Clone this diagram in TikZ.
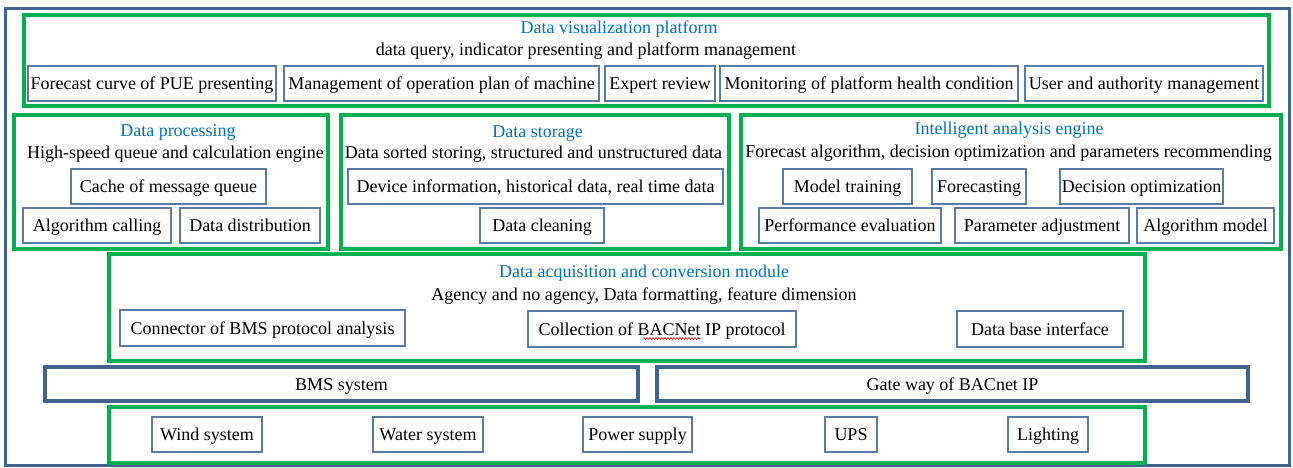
\documentclass[tikz,border=0pt]{standalone}
\usepackage{fontspec}
\setmainfont{Liberation Serif}
\newfontfamily\labelface{Liberation Serif}
\usetikzlibrary{decorations.pathmorphing}

\definecolor{layergreen}{HTML}{00B050}
\definecolor{titleblue}{HTML}{0070C0}
\definecolor{frameblue}{HTML}{41628F}
\definecolor{itemblue}{HTML}{5A7BAA}

\tikzset{
  txt/.style={font=\labelface\fontsize{18}{21.6}\selectfont, inner sep=0pt, outer sep=0pt},
  rect/.style={txt, rectangle, text height=12pt, text depth=0pt, align=center},
  layerbox/.style={rect, draw=layergreen, line width=3.4pt},
  outerframe/.style={rect, draw=frameblue, line width=3pt},
  busbox/.style={rect, draw=frameblue, line width=3.8pt},
  itembox/.style={rect, draw=itemblue, line width=1.2pt},
  layertitle/.style={txt, text=titleblue, anchor=base},
  layernote/.style={txt, anchor=base},
}

% \placebox{style}{name}{x1}{y1}{x2}{y2}{text}
\newcommand{\placebox}[7]{%
  \node[#1, minimum width={#5-#3}, minimum height={#6-#4}]
    (#2) at ({(#3+#5)/2},{(#4+#6)/2}) {#7};}

\begin{document}
\begin{tikzpicture}[x=1pt, y=-1pt]
\useasboundingbox (0,0) rectangle (1293,467);

% outer frame
\placebox{outerframe}{frame}{5}{8}{1289}{465}{}

% data visualization platform
\placebox{layerbox}{vis}{24}{15}{1269}{106}{}
\node[layertitle] (vistitle) at (619,33) {Data visualization platform};
\node[layernote] (visnote) at (586,55) {data query, indicator presenting and platform management};
\placebox{itembox}{v1}{28}{66}{276}{101}{Forecast curve of PUE presenting}
\placebox{itembox}{v2}{284}{66}{599}{101}{Management of operation plan of machine}
\placebox{itembox}{v3}{605}{66}{715}{101}{Expert review}
\placebox{itembox}{v4}{720}{66}{1018}{101}{Monitoring of platform health condition}
\placebox{itembox}{v5}{1025}{66}{1263}{101}{User and authority management}

% data processing
\placebox{layerbox}{proc}{14}{115}{328}{249}{}
\node[layertitle] (proctitle) at (178,136) {Data processing};
\node[layernote] (procnote) at (175.5,158) {High-speed queue and calculation engine};
\placebox{itembox}{p1}{71}{169}{266}{204}{Cache of message queue}
\placebox{itembox}{p2}{23}{208}{171}{243}{Algorithm calling}
\placebox{itembox}{p3}{180}{208}{320}{243}{Data distribution}

% data storage
\placebox{layerbox}{stor}{341}{115}{729}{249}{}
\node[layertitle] (stortitle) at (537.5,137) {Data storage};
\node[layernote] (stornote) at (533.5,158) {Data sorted storing, structured and unstructured data};
\placebox{itembox}{s1}{348}{169}{723}{204}{Device information, historical data, real time data}
\placebox{itembox}{s2}{480}{208}{604}{243}{Data cleaning}

% intelligent analysis engine
\placebox{layerbox}{intel}{741}{115}{1281}{249}{}
\node[layertitle] (inteltitle) at (1009,134) {Intelligent analysis engine};
\node[layernote] (intelnote) at (1008.5,157) {Forecast algorithm, decision optimization and parameters recommending};
\placebox{itembox}{i1}{783}{169}{912}{204}{Model training}
\placebox{itembox}{i2}{932}{169}{1026}{204}{Forecasting}
\placebox{itembox}{i3}{1060}{169}{1223}{204}{Decision optimization}
\placebox{itembox}{i4}{759}{208}{941}{243}{Performance evaluation}
\placebox{itembox}{i5}{955}{208}{1129}{243}{Parameter adjustment}
\placebox{itembox}{i6}{1137}{208}{1274}{243}{Algorithm model}

% data acquisition and conversion module
\placebox{layerbox}{acq}{109}{254}{1145}{361}{}
\node[layertitle] (acqtitle) at (644,277) {Data acquisition and conversion module};
\node[layernote] (acqnote) at (644,300) {Agency and no agency, Data formatting, feature dimension};
\placebox{itembox}{a1}{120}{310}{405}{346}{Connector of BMS protocol analysis}
\placebox{itembox}{a2}{528}{311}{796}{347}{Collection of BACNet IP protocol}
\placebox{itembox}{a3}{957}{311}{1123}{347}{Data base interface}
\draw[red!85!black, line width=0.6pt, decorate,
      decoration={snake, amplitude=0.9pt, segment length=3pt}]
  (643,338.5) -- (700,338.5);

% field buses
\placebox{busbox}{bms}{45}{367}{638}{401}{BMS system}
\placebox{busbox}{gw}{657}{367}{1248}{401}{Gate way of BACnet IP}

% field devices
\placebox{layerbox}{dev}{109}{407}{1145}{463}{}
\placebox{itembox}{d1}{152}{417}{262}{452}{Wind system}
\placebox{itembox}{d2}{373}{417}{483}{452}{Water system}
\placebox{itembox}{d3}{583}{417}{692}{452}{Power supply}
\placebox{itembox}{d4}{825}{417}{877}{452}{UPS}
\placebox{itembox}{d5}{1008}{417}{1088}{452}{Lighting}
\end{tikzpicture}
\end{document}
